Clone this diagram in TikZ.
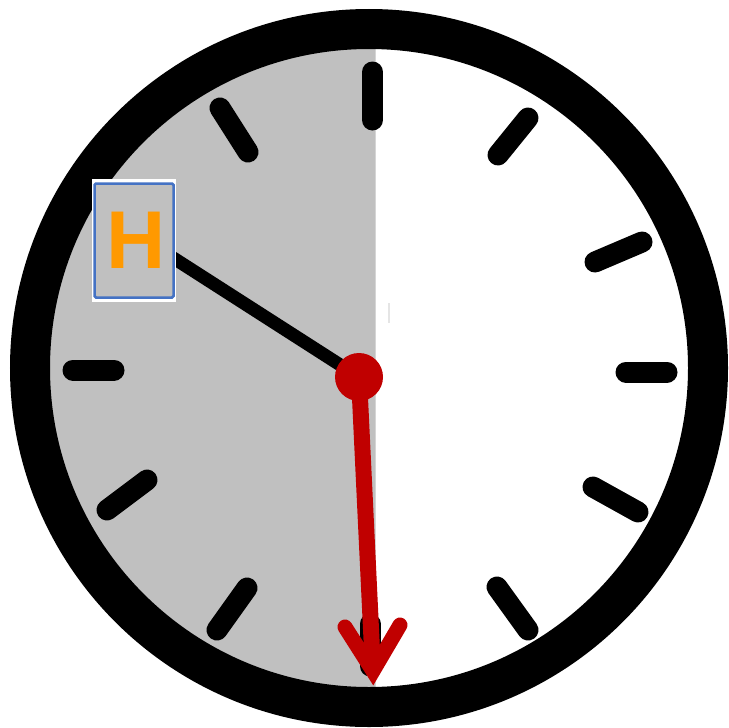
\documentclass[tikz,border=0pt]{standalone}
\usepackage{fontspec}
\setmainfont{Liberation Sans}
\definecolor{clkgray}{RGB}{192,192,192}
\definecolor{clkred}{RGB}{192,0,0}
\definecolor{clkblue}{RGB}{68,114,196}
\definecolor{clkorange}{RGB}{255,153,0}
\tikzset{
  tick/.style={line width=21pt, line cap=round, black},
  ringstyle/.style={line width=40pt, black},
}
\begin{document}
\begin{tikzpicture}[x=1pt,y=-1pt]
\useasboundingbox (0,0) rectangle (728,728);
\fill[white] (0,0) rectangle (728,728);
% gray left half
\begin{scope}
  \clip (0,0) rectangle (375.5,728);
  \fill[clkgray] (369,368) circle (330);
\end{scope}
% ring
\draw[ringstyle] (369,368) circle (339);
% ticks
\draw[tick] (372.5,72) -- (372.5,120);
\draw[tick] (528,118) -- (498,155);
\draw[tick] (642,242) -- (595,262);
\draw[tick] (626,372) -- (667,372);
\draw[tick] (593,487) -- (638,512);
\draw[tick] (497,587) -- (528,630);
\draw[tick] (370,624) -- (370,666);
\draw[tick] (247,588) -- (217,630);
\draw[tick] (147,480) -- (107,510);
\draw[tick] (73,370) -- (114,370);
\draw[tick] (220,108) -- (248,152);
% faint mark
\draw[line width=2pt, black!10] (389,303) -- (389,323);
% pivot
\coordinate (pivot) at (359,377);
\coordinate (hend) at (150,243);
% hour hand
\draw[line width=13pt, black] (pivot) -- (hend);
% H box
\fill[white] (92,179) rectangle (176,302);
\draw[clkblue, line width=2.5pt, fill=clkgray, rounded corners=1.5pt] (94.5,183.5) rectangle (173.5,297.5);
\node[text=clkorange, font=\bfseries\fontsize{82}{82}\selectfont, inner sep=0pt] (H) at (136,240) {H};
% red hand
\coordinate (tipv) at (373,671);
\coordinate (wl) at (345,627);
\coordinate (wr) at (400,625);
\draw[clkred, line width=16pt] (pivot) -- (tipv);
\draw[clkred, line width=15pt, line cap=round, line join=miter] (wl) -- (tipv) -- (wr);
\fill[clkred] (pivot) circle (24);
\end{tikzpicture}
\end{document}
